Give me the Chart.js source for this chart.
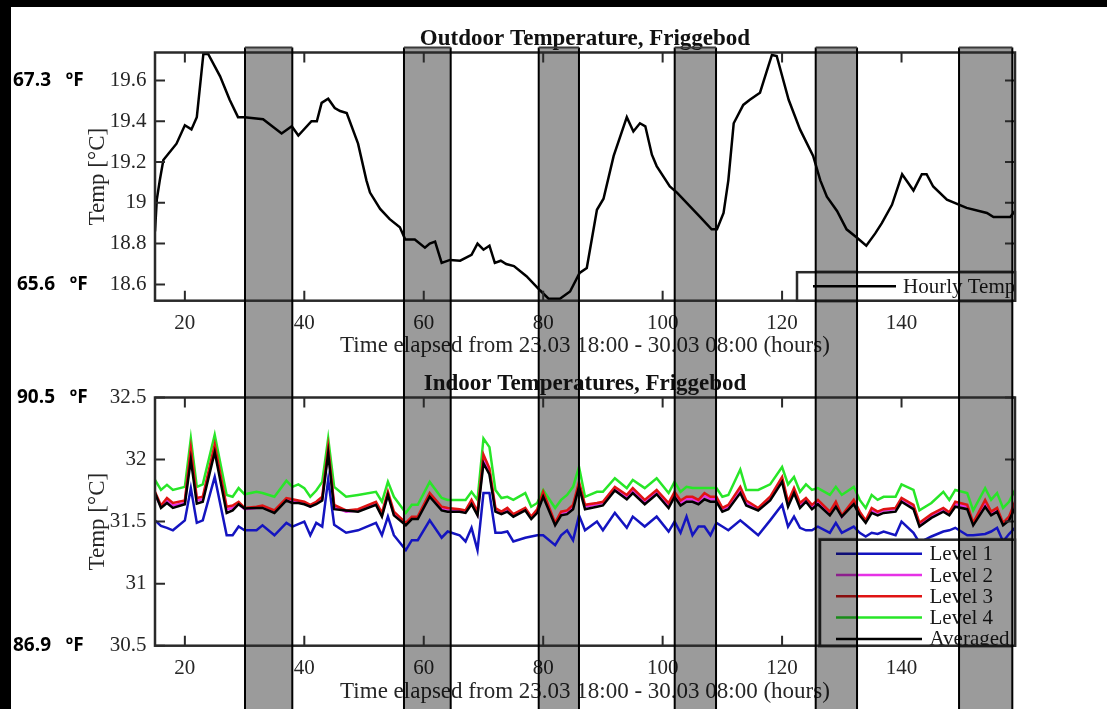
<!DOCTYPE html>
<html lang="en">
<head>
<meta charset="UTF-8">
<title>Friggebod temperatures</title>
<script src="https://cdn.jsdelivr.net/npm/chart.js@4.4.0/dist/chart.umd.min.js"></script>
<style>
    body {
        margin: 0;
        background: #fff;
        width: 1107px;
        height: 709px;
        overflow: hidden;
        position: relative;
    }
    .frame-top { position: absolute; left: 0; top: 0; width: 1107px; height: 7px; background: #000; z-index: 5; }
    .frame-left { position: absolute; left: 0; top: 0; width: 11px; height: 709px; background: #000; z-index: 5; }
    #outdoorChart { position: absolute; left: 0; top: 0; }
    #indoorChart { position: absolute; left: 0; top: 370px; }
</style>
</head>
<body>
<div class="frame-top"></div>
<div class="frame-left"></div>
<canvas id="outdoorChart" width="1107" height="370"></canvas>
<canvas id="indoorChart" width="1107" height="339"></canvas>

<script>
// ---- data ----
const hourTicks = [20, 40, 60, 80, 100, 120, 140];
const outdoorTicks = [18.6, 18.8, 19, 19.2, 19.4, 19.6];
const indoorTicks = [30.5, 31, 31.5, 32, 32.5];

// grey periods (hours)
const bandStart = [30.07, 56.69, 79.25, 102.02, 125.63, 149.63];
const bandEnd   = [37.99, 64.51, 85.99, 108.94, 132.55, 158.55];

// Fahrenheit notes on the left
const outdoorF = ['67.3   ºF', '65.6   ºF'];
const outdoorFAt = [19.6, 18.6];
const indoorF = ['90.5   ºF', '86.9   ºF'];
const indoorFAt = [32.5, 30.5];

// outdoor, hourly temp
const outdoorHours = [15, 15.3, 15.8, 16.4, 18.6, 20, 21.1, 22, 23.1, 23.9,
    25.9, 27.5, 28.9, 30, 33.1, 36.2, 37.9, 39, 41.2, 42.1,
    42.9, 44, 45.1, 46, 47.1, 49, 50.4, 51, 52.7, 54.3,
    56, 56.9, 58.5, 60.2, 61, 61.9, 63, 64.4, 66.1, 68,
    69, 70, 71, 71.9, 72.9, 73.8, 75.1, 77.2, 79.5, 80.9,
    82.8, 84.5, 86.1, 87.3, 89, 90.1, 91.8, 94, 95.1, 96.2,
    97.1, 98.2, 99, 101.2, 102.4, 106.3, 108.2, 109.1, 110.2, 111,
    111.9, 113.5, 114.6, 116.3, 117.7, 118.3, 119.1, 121.1, 123, 125.2,
    126.4, 127.5, 129.2, 130.8, 132.5, 134.1, 135.6, 136.7, 138.4, 140.1,
    142, 143.4, 144.2, 145.3, 147.6, 150.9, 154.3, 155.4, 158.2, 159];
const outdoorTemp = [18.86, 19.015, 19.11, 19.21, 19.29, 19.38, 19.36, 19.42, 19.73, 19.73,
    19.62, 19.505, 19.42, 19.42, 19.41, 19.34, 19.375, 19.33, 19.40, 19.40,
    19.49, 19.51, 19.465, 19.45, 19.44, 19.29, 19.11, 19.05, 18.97, 18.92,
    18.88, 18.82, 18.82, 18.78, 18.80, 18.81, 18.705, 18.72, 18.716, 18.745,
    18.80, 18.77, 18.79, 18.705, 18.716, 18.70, 18.69, 18.64, 18.57, 18.53,
    18.53, 18.565, 18.656, 18.68, 18.966, 19.02, 19.23, 19.42, 19.35, 19.39,
    19.375, 19.236, 19.18, 19.08, 19.05, 18.93, 18.87, 18.87, 18.95, 19.11,
    19.39, 19.48, 19.505, 19.54, 19.67, 19.725, 19.72, 19.505, 19.36, 19.23,
    19.11, 19.03, 18.96, 18.87, 18.83, 18.79, 18.85, 18.90, 18.99, 19.14,
    19.06, 19.14, 19.14, 19.08, 19.015, 18.975, 18.95, 18.93, 18.93, 18.96];

// indoor, per level
const indoorHours = [15, 16, 17, 18, 20, 21, 22, 23, 25, 27,
    28, 29, 30, 32, 33, 35, 37, 38, 39, 40,
    41, 42, 43, 44, 45, 47, 49, 52, 53, 54,
    55, 57, 58, 59, 61, 63, 64, 66, 67, 68,
    69, 70, 71, 72, 73, 74, 75, 77, 78, 79,
    80, 82, 83, 84, 85, 86, 87, 89, 90, 92,
    94, 95, 97, 99, 101, 102, 103, 104, 105, 106,
    107, 108, 109, 110, 111, 113, 114, 116, 118, 120,
    121, 122, 123, 124, 125, 126, 128, 129, 130, 132,
    133, 134, 135, 136, 137, 139, 140, 142, 143, 145,
    147, 148, 149, 151, 152, 154, 155, 156, 157, 158,
    159];
const level1 = [31.51, 31.465, 31.45, 31.43, 31.51, 31.77, 31.49, 31.51, 31.86, 31.39,
    31.39, 31.46, 31.43, 31.43, 31.47, 31.39, 31.49, 31.46, 31.48, 31.50,
    31.39, 31.49, 31.46, 31.84, 31.475, 31.41, 31.43, 31.49, 31.39, 31.54,
    31.39, 31.27, 31.35, 31.35, 31.51, 31.37, 31.42, 31.39, 31.34, 31.45,
    31.27, 31.73, 31.73, 31.41, 31.41, 31.42, 31.34, 31.37, 31.38, 31.39,
    31.39, 31.31, 31.39, 31.43, 31.35, 31.55, 31.43, 31.50, 31.43, 31.57,
    31.45, 31.54, 31.46, 31.54, 31.42, 31.50, 31.41, 31.54, 31.39, 31.46,
    31.46, 31.39, 31.49, 31.46, 31.43, 31.51, 31.47, 31.39, 31.51, 31.635,
    31.46, 31.54, 31.45, 31.43, 31.43, 31.46, 31.41, 31.49, 31.41, 31.46,
    31.41, 31.38, 31.41, 31.40, 31.42, 31.39, 31.50, 31.41, 31.33, 31.38,
    31.42, 31.43, 31.45, 31.39, 31.39, 31.40, 31.42, 31.45, 31.34, 31.40,
    31.45];
const level2 = [31.72, 31.62, 31.67, 31.63, 31.65, 32.06, 31.67, 31.68, 32.10, 31.60,
    31.61, 31.64, 31.60, 31.61, 31.62, 31.58, 31.68, 31.66, 31.66, 31.65,
    31.62, 31.65, 31.68, 32.07, 31.62, 31.58, 31.59, 31.64, 31.55, 31.72,
    31.56, 31.48, 31.53, 31.53, 31.71, 31.60, 31.60, 31.59, 31.58, 31.66,
    31.56, 32.00, 31.90, 31.60, 31.57, 31.60, 31.55, 31.60, 31.53, 31.59,
    31.72, 31.48, 31.57, 31.58, 31.62, 31.80, 31.62, 31.64, 31.65, 31.76,
    31.70, 31.75, 31.66, 31.74, 31.63, 31.72, 31.65, 31.68, 31.68, 31.66,
    31.71, 31.68, 31.68, 31.60, 31.62, 31.76, 31.65, 31.60, 31.68, 31.84,
    31.64, 31.75, 31.63, 31.67, 31.62, 31.66, 31.57, 31.64, 31.54, 31.66,
    31.57, 31.50, 31.59, 31.57, 31.59, 31.60, 31.68, 31.62, 31.48, 31.55,
    31.60, 31.56, 31.64, 31.62, 31.48, 31.65, 31.57, 31.60, 31.48, 31.53,
    31.64];
const level3 = [31.74, 31.63, 31.69, 31.65, 31.67, 32.09, 31.69, 31.70, 32.12, 31.62,
    31.63, 31.66, 31.61, 31.62, 31.63, 31.59, 31.69, 31.68, 31.67, 31.66,
    31.635, 31.66, 31.70, 32.10, 31.635, 31.59, 31.60, 31.66, 31.57, 31.74,
    31.58, 31.49, 31.54, 31.54, 31.73, 31.62, 31.61, 31.60, 31.59, 31.675,
    31.58, 32.04, 31.93, 31.61, 31.58, 31.61, 31.56, 31.61, 31.54, 31.60,
    31.74, 31.49, 31.58, 31.59, 31.635, 31.82, 31.635, 31.65, 31.66, 31.78,
    31.715, 31.77, 31.675, 31.755, 31.65, 31.74, 31.67, 31.70, 31.70, 31.675,
    31.73, 31.70, 31.70, 31.61, 31.635, 31.78, 31.67, 31.61, 31.70, 31.86,
    31.66, 31.77, 31.65, 31.69, 31.635, 31.675, 31.58, 31.66, 31.55, 31.675,
    31.58, 31.51, 31.61, 31.58, 31.60, 31.61, 31.69, 31.635, 31.49, 31.56,
    31.61, 31.575, 31.66, 31.635, 31.49, 31.675, 31.58, 31.61, 31.49, 31.54,
    31.66];
const level4 = [31.836, 31.755, 31.796, 31.755, 31.78, 32.17, 31.78, 31.80, 32.20, 31.715,
    31.70, 31.77, 31.72, 31.74, 31.73, 31.70, 31.83, 31.78, 31.80, 31.77,
    31.70, 31.75, 31.82, 32.17, 31.78, 31.70, 31.715, 31.74, 31.66, 31.82,
    31.70, 31.57, 31.635, 31.635, 31.82, 31.69, 31.675, 31.675, 31.675, 31.74,
    31.675, 32.17, 32.10, 31.755, 31.69, 31.70, 31.675, 31.73, 31.62, 31.65,
    31.755, 31.61, 31.675, 31.715, 31.78, 31.94, 31.70, 31.74, 31.74, 31.85,
    31.77, 31.836, 31.77, 31.85, 31.73, 31.82, 31.74, 31.78, 31.77, 31.77,
    31.77, 31.77, 31.77, 31.70, 31.715, 31.92, 31.755, 31.755, 31.80, 31.94,
    31.80, 31.86, 31.74, 31.80, 31.755, 31.77, 31.715, 31.78, 31.715, 31.78,
    31.675, 31.61, 31.715, 31.675, 31.70, 31.70, 31.80, 31.755, 31.59, 31.65,
    31.74, 31.675, 31.755, 31.73, 31.59, 31.77, 31.675, 31.73, 31.61, 31.66,
    31.755];
const averaged = [31.73, 31.61, 31.65, 31.61, 31.64, 32.00, 31.645, 31.66, 32.06, 31.57,
    31.59, 31.64, 31.605, 31.61, 31.61, 31.57, 31.67, 31.65, 31.65, 31.64,
    31.62, 31.64, 31.67, 32.05, 31.60, 31.59, 31.58, 31.635, 31.54, 31.715,
    31.55, 31.47, 31.52, 31.52, 31.70, 31.59, 31.58, 31.58, 31.57, 31.64,
    31.55, 31.97, 31.88, 31.58, 31.56, 31.58, 31.54, 31.59, 31.52, 31.57,
    31.70, 31.47, 31.55, 31.56, 31.60, 31.78, 31.60, 31.62, 31.63, 31.75,
    31.68, 31.73, 31.64, 31.72, 31.61, 31.70, 31.63, 31.66, 31.66, 31.64,
    31.68, 31.66, 31.66, 31.58, 31.60, 31.73, 31.63, 31.59, 31.67, 31.82,
    31.62, 31.73, 31.61, 31.66, 31.60, 31.64, 31.55, 31.62, 31.54, 31.64,
    31.55, 31.49, 31.57, 31.55, 31.57, 31.58, 31.66, 31.60, 31.46, 31.53,
    31.58, 31.55, 31.62, 31.60, 31.47, 31.62, 31.55, 31.58, 31.47, 31.51,
    31.61];

// ---- drawing ----
Chart.defaults.font.family = '"Liberation Serif", "Times New Roman", serif';
Chart.defaults.color = '#262626';

function points(xs, ys) {
    return xs.map((x, i) => ({ x: x, y: ys[i] }));
}

// fill the grey periods with a multiply so text under them stays readable
function fillBands(chart, top, clipRect) {
    const { ctx, scales: { x } } = chart;
    ctx.save();
    if (clipRect) {
        ctx.beginPath();
        ctx.rect(clipRect[0], clipRect[1], clipRect[2], clipRect[3]);
        ctx.clip();
    }
    ctx.globalCompositeOperation = 'multiply';
    ctx.fillStyle = 'rgb(155,155,155)';
    bandStart.forEach((s, i) => {
        const l = x.getPixelForValue(s), r = x.getPixelForValue(bandEnd[i]);
        ctx.fillRect(l, top, r - l, chart.height - top);
    });
    ctx.restore();
}

// box, inward ticks, legend, titles, grey bands
const framePlugin = {
    id: 'frame',
    beforeDraw(chart) {
        const ctx = chart.ctx;
        ctx.save();
        ctx.fillStyle = '#fff';
        ctx.fillRect(0, 0, chart.width, chart.height);
        ctx.restore();
    },
    beforeDatasetsDraw(chart, args, opts) {
        fillBands(chart, opts.bandTop);
    },
    afterDatasetsDraw(chart, args, opts) {
        const { ctx, chartArea: a, scales: { x, y } } = chart;
        ctx.save();
        ctx.strokeStyle = '#2a2a2a';
        ctx.lineWidth = 2.5;
        ctx.strokeRect(a.left, a.top, a.right - a.left, a.bottom - a.top);

        ctx.lineWidth = 2;
        ctx.beginPath();
        x.ticks.forEach(t => {
            const px = x.getPixelForValue(t.value);
            ctx.moveTo(px, a.bottom); ctx.lineTo(px, a.bottom - 10);
            ctx.moveTo(px, a.top); ctx.lineTo(px, a.top + 10);
        });
        y.ticks.forEach(t => {
            const py = y.getPixelForValue(t.value);
            ctx.moveTo(a.left, py); ctx.lineTo(a.left + 10, py);
            ctx.moveTo(a.right, py); ctx.lineTo(a.right - 10, py);
        });
        ctx.stroke();

        // legend box in the lower right corner
        const lg = opts.legend;
        const left = a.right - lg.width, top = a.bottom - lg.height;
        ctx.fillStyle = '#fff';
        ctx.fillRect(left, top, lg.width, lg.height);
        ctx.save();
        ctx.beginPath();
        ctx.rect(left, top, lg.width, lg.height);
        ctx.clip();
        ctx.font = '21px "Liberation Serif"';
        ctx.textBaseline = 'middle';
        chart.data.datasets.forEach((ds, i) => {
            const ly = top + 14 + i * 21.3;
            ctx.strokeStyle = ds.borderColor;
            ctx.lineWidth = 2.5;
            ctx.beginPath();
            ctx.moveTo(left + 16, ly);
            ctx.lineTo(left + lg.lineEnd, ly);
            ctx.stroke();
            ctx.fillStyle = '#1a1a1a';
            ctx.fillText(ds.label, left + lg.textX, ly + 1);
        });
        ctx.restore();
        ctx.strokeStyle = '#2a2a2a';
        ctx.lineWidth = 2.5;
        ctx.strokeRect(left, top, lg.width, lg.height);
        ctx.restore();

        // the legend sits under the grey periods
        fillBands(chart, opts.bandTop, [left - 2, top - 2, lg.width + 4, lg.height + 4]);
    },
    afterDraw(chart, args, opts) {
        const { ctx, chartArea: a, scales: { x, y } } = chart;
        ctx.save();
        // chart title
        ctx.font = 'bold 23px "Liberation Serif"';
        ctx.fillStyle = '#111';
        ctx.textAlign = 'center';
        ctx.textBaseline = 'alphabetic';
        ctx.fillText(opts.title, (a.left + a.right) / 2, a.top - 8);

        // Fahrenheit notes
        ctx.font = 'bold 19px "Open Sans", "Noto Sans", sans-serif';
        ctx.textAlign = 'left';
        ctx.textBaseline = 'middle';
        ctx.fillStyle = '#000';
        opts.fText.forEach((t, i) => {
            ctx.fillText(t, opts.fX[i], y.getPixelForValue(opts.fAt[i]));
        });

        // edges of the grey periods
        const top = opts.bandTop;
        ctx.strokeStyle = '#000';
        ctx.lineWidth = 2;
        ctx.beginPath();
        bandStart.forEach((s, i) => {
            const l = x.getPixelForValue(s), r = x.getPixelForValue(bandEnd[i]);
            ctx.moveTo(l, chart.height); ctx.lineTo(l, top);
            ctx.moveTo(r, chart.height); ctx.lineTo(r, top);
        });
        ctx.stroke();
        if (top > 0) {
            ctx.strokeStyle = '#3a3a3a';
            ctx.beginPath();
            bandStart.forEach((s, i) => {
                const l = x.getPixelForValue(s), r = x.getPixelForValue(bandEnd[i]);
                ctx.moveTo(l, top); ctx.lineTo(r, top);
            });
            ctx.stroke();
        }
        ctx.restore();
    }
};

function makeOptions(o) {
    return {
        responsive: false,
        animation: false,
        events: [],
        layout: { padding: { left: 0, right: 92, top: o.padTop, bottom: 0 } },
        elements: { point: { radius: 0 }, line: { borderWidth: 2.5, tension: 0 } },
        plugins: {
            legend: { display: false },
            tooltip: { enabled: false },
            frame: o.frame
        },
        scales: {
            x: {
                type: 'linear', min: 15, max: 159,
                grid: { display: false, drawTicks: false },
                border: { display: false },
                afterBuildTicks: s => { s.ticks = hourTicks.map(v => ({ value: v })); },
                afterFit: s => { s.height = o.xHeight; },
                ticks: { padding: 10.5, maxRotation: 0, autoSkip: false, font: { size: 21 }, callback: v => String(v) },
                title: {
                    display: true,
                    text: 'Time elapsed from 23.03 18:00 - 30.03 08:00 (hours)',
                    font: { size: 23 },
                    padding: { top: 0, bottom: o.xTitlePad }
                }
            },
            y: {
                min: o.yMin, max: o.yMax,
                grid: { display: false, drawTicks: false },
                border: { display: false },
                afterBuildTicks: s => { s.ticks = o.yTicks.map(v => ({ value: v })); },
                afterFit: s => { s.width = 155; },
                ticks: { padding: 8.5, font: { size: 21 }, callback: v => String(v) },
                title: {
                    display: true,
                    text: 'Temp [°C]',
                    font: { size: 23 },
                    padding: { top: 84, bottom: 0 }
                }
            }
        }
    };
}

new Chart(document.getElementById('outdoorChart'), {
    type: 'line',
    data: {
        datasets: [{
            label: 'Hourly Temp',
            data: points(outdoorHours, outdoorTemp),
            borderColor: '#000',
            borderWidth: 2.5
        }]
    },
    options: makeOptions({
        padTop: 52.5, xHeight: 69.3, xTitlePad: 10.5,
        yMin: 18.52, yMax: 19.737, yTicks: outdoorTicks,
        frame: {
            title: 'Outdoor Temperature, Friggebod',
            legend: { width: 218, height: 28.5, lineEnd: 99, textX: 106 },
            fText: outdoorF, fAt: outdoorFAt, fX: [13, 17],
            bandTop: 47.5
        }
    }),
    plugins: [framePlugin]
});

new Chart(document.getElementById('indoorChart'), {
    type: 'line',
    data: {
        datasets: [
            { label: 'Level 1', data: points(indoorHours, level1), borderColor: '#1414c0', order: 4 },
            { label: 'Level 2', data: points(indoorHours, level2), borderColor: '#e632e6', order: 2 },
            { label: 'Level 3', data: points(indoorHours, level3), borderColor: '#e01414', order: 1 },
            { label: 'Level 4', data: points(indoorHours, level4), borderColor: '#28e628', order: 3 },
            { label: 'Averaged', data: points(indoorHours, averaged), borderColor: '#000', order: 0 }
        ]
    },
    options: makeOptions({
        padTop: 27.5, xHeight: 63.3, xTitlePad: 3,
        yMin: 30.5, yMax: 32.5, yTicks: indoorTicks,
        frame: {
            title: 'Indoor Temperatures, Friggebod',
            legend: { width: 195, height: 106, lineEnd: 102, textX: 109.5 },
            fText: indoorF, fAt: indoorFAt, fX: [17, 13],
            bandTop: 0
        }
    }),
    plugins: [framePlugin]
});
</script>
</body>
</html>
